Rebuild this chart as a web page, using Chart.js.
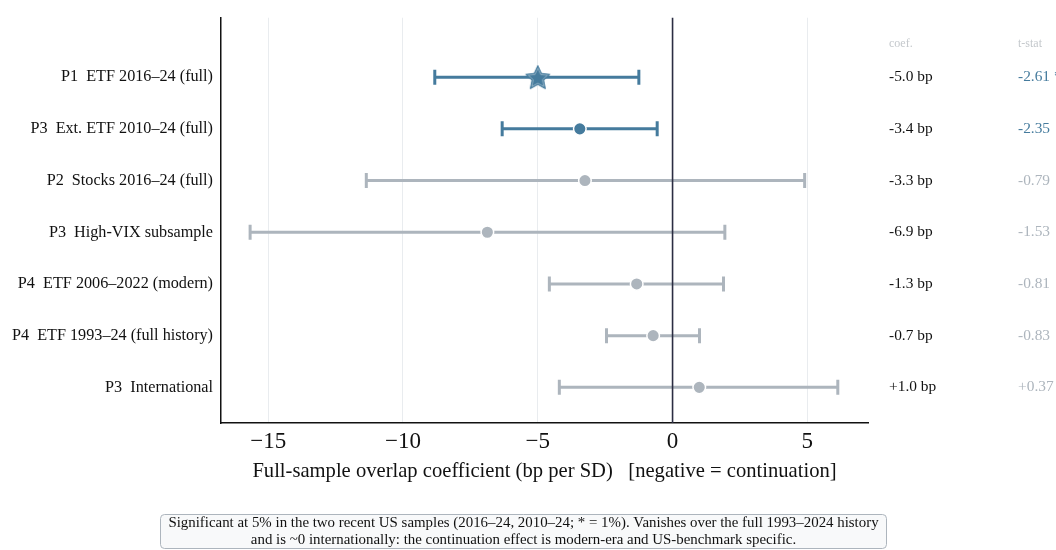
<!DOCTYPE html>
<html>
<head>
<meta charset="utf-8">
<script src="https://cdn.jsdelivr.net/npm/chart.js@4"></script>
<style>
  html, body { margin: 0; padding: 0; background: #ffffff; }
  #wrap { width: 1056px; height: 550px; position: relative; }
</style>
</head>
<body>
<div id="wrap"><canvas id="chart" width="1056" height="550"></canvas></div>
<script>
const rowLabels = [
    'P1  ETF 2016–24 (full)',
    'P3  Ext. ETF 2010–24 (full)',
    'P2  Stocks 2016–24 (full)',
    'P3  High-VIX subsample',
    'P4  ETF 2006–2022 (modern)',
    'P4  ETF 1993–24 (full history)',
    'P3  International',
]
const coefs = [-5.0, -3.44, -3.25, -6.87, -1.33, -0.72, 0.99]
const ciLow = [-8.82, -6.32, -11.36, -15.67, -4.57, -2.45, -4.2]
const ciHigh = [-1.25, -0.57, 4.9, 1.94, 1.89, 1.0, 6.13]
const coefText = ['-5.0 bp', '-3.4 bp', '-3.3 bp', '-6.9 bp', '-1.3 bp', '-0.7 bp', '+1.0 bp']
const tText = ['-2.61 *', '-2.35', '-0.79', '-1.53', '-0.81', '-0.83', '+0.37']
const significant = [true, true, false, false, false, false, false]
const xTicks = [-15, -10, -5, 0, 5]
const footnote = [
    'Significant at 5% in the two recent US samples (2016–24, 2010–24; * = 1%). Vanishes over the full 1993–2024 history',
    'and is ~0 internationally: the continuation effect is modern-era and US-benchmark specific.',
]

const BLUE = '#457b9d'
const GREY = '#adb5bd'
const INK = '#2b2d42'
const SERIF = '"Liberation Serif", "DejaVu Serif", serif'

// star marker for the headline estimate
function makeStar(size, color) {
    const c = document.createElement('canvas')
    c.width = size
    c.height = size
    const ctx = c.getContext('2d')
    const path = (outer, inner) => {
        ctx.beginPath()
        for (let k = 0; k < 10; k++) {
            const r = k % 2 ? inner : outer
            const a = -Math.PI / 2 + k * Math.PI / 5
            const px = size / 2 + r * Math.cos(a)
            const py = size / 2 + 1.2 + r * Math.sin(a)
            k ? ctx.lineTo(px, py) : ctx.moveTo(px, py)
        }
        ctx.closePath()
    }
    const R = size / 2 - 1.2
    path(R, R * 0.48)
    ctx.fillStyle = color
    ctx.fill()
    ctx.strokeStyle = color
    ctx.lineWidth = 1
    ctx.lineJoin = 'miter'
    ctx.stroke()
    path(R - 2.8, (R - 2.8) * 0.48)
    ctx.strokeStyle = 'rgba(255,255,255,0.45)'
    ctx.lineWidth = 0.8
    ctx.stroke()
    return c
}

const colors = significant.map(s => s ? BLUE : GREY)
const styles = coefs.map((_, i) => i === 0 ? makeStar(28, BLUE) : 'circle')

const errorBars = {
    id: 'errorBars',
    beforeDatasetsDraw(chart) {
        const { ctx, chartArea, scales: { x, y } } = chart
        ctx.save()
        ctx.lineWidth = 3
        ctx.lineCap = 'butt'
        coefs.forEach((_, i) => {
            const yp = y.getPixelForValue(i)
            const x0 = x.getPixelForValue(ciLow[i])
            const x1 = x.getPixelForValue(ciHigh[i])
            ctx.strokeStyle = colors[i]
            ctx.beginPath()
            ctx.moveTo(x0, yp)
            ctx.lineTo(x1, yp)
            ctx.moveTo(x0, yp - 7.5)
            ctx.lineTo(x0, yp + 7.5)
            ctx.moveTo(x1, yp - 7.5)
            ctx.lineTo(x1, yp + 7.5)
            ctx.stroke()
        })
        // zero reference line
        const zx = x.getPixelForValue(0)
        ctx.strokeStyle = INK
        ctx.lineWidth = 1.6
        ctx.beginPath()
        ctx.moveTo(zx, chartArea.top)
        ctx.lineTo(zx, chartArea.bottom)
        ctx.stroke()
        ctx.restore()
    },
    afterDraw(chart) {
        const { ctx, scales: { y } } = chart
        ctx.save()
        ctx.textBaseline = 'middle'
        ctx.textAlign = 'left'
        ctx.font = `12px ${SERIF}`
        ctx.fillStyle = '#c4c8cc'
        ctx.fillText('coef.', 889, y.getPixelForValue(-0.65))
        ctx.fillText('t-stat', 1018, y.getPixelForValue(-0.65))
        ctx.font = `15.4px ${SERIF}`
        coefs.forEach((_, i) => {
            const yp = y.getPixelForValue(i)
            ctx.fillStyle = '#111111'
            ctx.fillText(coefText[i], 889, yp)
            ctx.fillStyle = colors[i]
            ctx.fillText(tText[i], 1018, yp)
        })

        // footnote box
        ctx.beginPath()
        ctx.roundRect(160.5, 514.5, 726, 34, 4)
        ctx.fillStyle = '#f8f9fa'
        ctx.fill()
        ctx.strokeStyle = GREY
        ctx.lineWidth = 1
        ctx.stroke()
        ctx.fillStyle = '#111111'
        ctx.textAlign = 'center'
        ctx.font = `14.9px ${SERIF}`
        ctx.fillText(footnote[0], 523.5, 523.5)
        ctx.fillText(footnote[1], 523.5, 540)
        ctx.restore()
    },
}

new Chart(document.getElementById('chart'), {
    type: 'scatter',
    data: {
        datasets: [{
            data: coefs.map((v, i) => ({ x: v, y: i })),
            pointStyle: styles,
            pointRadius: coefs.map((_, i) => i === 0 ? 14 : 6.3),
            pointBackgroundColor: colors,
            pointBorderColor: '#ffffff',
            pointBorderWidth: 1.5,
            pointHoverRadius: 0,
        }],
    },
    options: {
        responsive: false,
        animation: false,
        events: [],
        layout: { padding: { left: 0, right: 188, top: 16, bottom: 62 } },
        plugins: { legend: { display: false }, tooltip: { enabled: false } },
        scales: {
            x: {
                type: 'linear',
                min: -16.75,
                max: 7.25,
                afterBuildTicks: scale => { scale.ticks = xTicks.map(value => ({ value })) },
                afterFit: scale => { scale.height = 65 },
                ticks: {
                    color: '#111111',
                    padding: 5,
                    maxRotation: 0,
                    font: { family: SERIF, size: 23 },
                    callback: v => String(v).replace('-', '−'),
                },
                grid: {
                    drawTicks: false,
                    color: ctx => ctx.tick && ctx.tick.value === 0 ? 'rgba(0,0,0,0)' : '#e9ecef',
                    lineWidth: 1,
                },
                border: { display: true, color: '#111111', width: 1.5 },
                title: {
                    display: true,
                    text: 'Full-sample overlap coefficient (bp per SD)   [negative = continuation]',
                    color: '#111111',
                    font: { family: SERIF, size: 20.6 },
                    padding: { top: 0, bottom: 4 },
                },
            },
            y: {
                type: 'linear',
                reverse: true,
                min: -1.15,
                max: 6.69,
                afterBuildTicks: scale => { scale.ticks = rowLabels.map((_, value) => ({ value })) },
                afterFit: scale => { scale.width = 221 },
                ticks: {
                    color: '#111111',
                    padding: 8,
                    font: { family: SERIF, size: 16.2 },
                    callback: v => rowLabels[v],
                },
                grid: { display: false, drawTicks: false },
                border: { display: true, color: '#111111', width: 1.5 },
            },
        },
    },
    plugins: [errorBars],
})
</script>
</body>
</html>
